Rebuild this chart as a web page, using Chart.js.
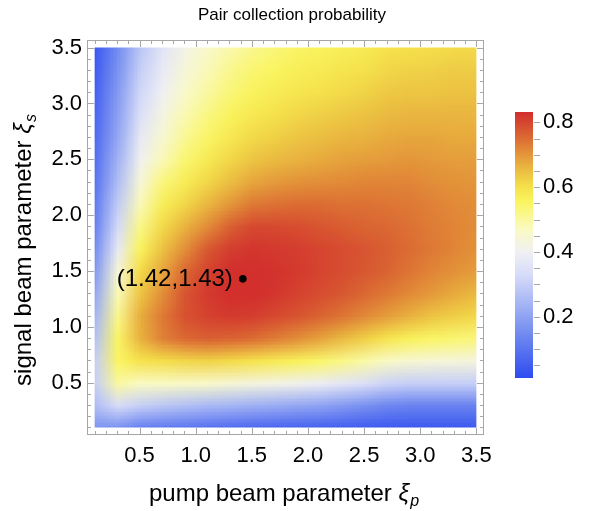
<!DOCTYPE html>
<html lang="en">
<head>
  <meta charset="UTF-8">
  <title>Pair collection probability</title>
  <script src="https://cdn.jsdelivr.net/npm/chart.js"></script>
  <style>
    html, body { margin: 0; padding: 0; background: #fff; }
    #wrap { width: 590px; height: 511px; }
  </style>
</head>
<body>
  <div id="wrap"><canvas id="chart" width="590" height="511"></canvas></div>

  <script>
    // grid: columns = pump xi, rows = signal xi (top row first)
    const pumpXi = [0.1, 0.3, 0.5, 0.7, 0.9, 1.1, 1.3, 1.5, 1.7, 1.9, 2.1, 2.3, 2.5, 2.7, 2.9, 3.1, 3.3, 3.5];
    const signalXi = [3.5, 3.3, 3.1, 2.9, 2.7, 2.5, 2.3, 2.1, 1.9, 1.7, 1.5, 1.3, 1.1, 0.9, 0.7, 0.5, 0.3, 0.1];
    const probRows = [
      [0.04, 0.15, 0.28, 0.36, 0.42, 0.46, 0.49, 0.515, 0.535, 0.55, 0.56, 0.57, 0.58, 0.595, 0.60, 0.605, 0.61, 0.61],
      [0.05, 0.165, 0.30, 0.38, 0.44, 0.48, 0.515, 0.54, 0.555, 0.57, 0.58, 0.59, 0.60, 0.615, 0.62, 0.625, 0.63, 0.63],
      [0.06, 0.18, 0.32, 0.40, 0.46, 0.50, 0.535, 0.56, 0.575, 0.59, 0.60, 0.61, 0.62, 0.635, 0.64, 0.64, 0.645, 0.645],
      [0.07, 0.195, 0.345, 0.425, 0.485, 0.525, 0.56, 0.585, 0.60, 0.615, 0.625, 0.635, 0.645, 0.655, 0.66, 0.66, 0.66, 0.66],
      [0.08, 0.21, 0.375, 0.45, 0.51, 0.55, 0.585, 0.61, 0.625, 0.64, 0.65, 0.66, 0.665, 0.675, 0.68, 0.68, 0.675, 0.675],
      [0.09, 0.235, 0.405, 0.48, 0.54, 0.58, 0.615, 0.64, 0.655, 0.665, 0.675, 0.685, 0.69, 0.695, 0.70, 0.695, 0.69, 0.69],
      [0.10, 0.26, 0.44, 0.53, 0.575, 0.615, 0.65, 0.68, 0.695, 0.705, 0.71, 0.715, 0.72, 0.72, 0.72, 0.71, 0.705, 0.70],
      [0.115, 0.29, 0.48, 0.57, 0.615, 0.66, 0.70, 0.735, 0.745, 0.75, 0.75, 0.745, 0.745, 0.74, 0.735, 0.725, 0.715, 0.71],
      [0.13, 0.325, 0.52, 0.61, 0.665, 0.715, 0.765, 0.795, 0.795, 0.79, 0.78, 0.77, 0.76, 0.755, 0.745, 0.73, 0.72, 0.71],
      [0.155, 0.375, 0.56, 0.645, 0.71, 0.775, 0.81, 0.82, 0.815, 0.81, 0.80, 0.79, 0.78, 0.765, 0.75, 0.735, 0.72, 0.705],
      [0.18, 0.44, 0.61, 0.68, 0.755, 0.805, 0.83, 0.83, 0.825, 0.815, 0.80, 0.79, 0.775, 0.76, 0.74, 0.72, 0.705, 0.69],
      [0.21, 0.48, 0.64, 0.71, 0.78, 0.815, 0.83, 0.83, 0.82, 0.805, 0.79, 0.775, 0.755, 0.735, 0.715, 0.695, 0.675, 0.655],
      [0.24, 0.515, 0.67, 0.735, 0.785, 0.805, 0.815, 0.81, 0.795, 0.78, 0.76, 0.74, 0.715, 0.69, 0.665, 0.64, 0.625, 0.61],
      [0.27, 0.55, 0.665, 0.725, 0.755, 0.765, 0.76, 0.75, 0.73, 0.71, 0.685, 0.655, 0.625, 0.59, 0.565, 0.55, 0.54, 0.53],
      [0.30, 0.55, 0.595, 0.605, 0.615, 0.62, 0.61, 0.595, 0.58, 0.565, 0.545, 0.52, 0.495, 0.465, 0.45, 0.44, 0.435, 0.43],
      [0.30, 0.50, 0.47, 0.47, 0.465, 0.46, 0.445, 0.43, 0.42, 0.41, 0.39, 0.365, 0.34, 0.31, 0.30, 0.30, 0.30, 0.30],
      [0.26, 0.33, 0.30, 0.28, 0.265, 0.25, 0.24, 0.23, 0.22, 0.21, 0.20, 0.18, 0.16, 0.14, 0.13, 0.13, 0.13, 0.13],
      [0.17, 0.16, 0.12, 0.11, 0.10, 0.09, 0.08, 0.07, 0.065, 0.06, 0.055, 0.05, 0.045, 0.04, 0.04, 0.04, 0.04, 0.04]
    ];
    const optimum = [{ x: 1.42, y: 1.43 }];
    const optimumLabel = '(1.42,1.43)';
    const xTicks = [0.5, 1.0, 1.5, 2.0, 2.5, 3.0, 3.5];
    const yTicks = [0.5, 1.0, 1.5, 2.0, 2.5, 3.0, 3.5];
    const barTicks = [0.2, 0.4, 0.6, 0.8];
    const barRange = [0.011, 0.832];

    // temperature-map like colour scale
    const mapVals = [0.011, 0.15, 0.25, 0.33, 0.40, 0.47, 0.555, 0.60, 0.65, 0.70, 0.76, 0.832];
    const mapRgb = [
      [45, 75, 240], [115, 140, 240], [170, 185, 245], [215, 220, 248], [240, 240, 243], [250, 250, 195],
      [250, 245, 95], [245, 225, 75], [235, 190, 65], [228, 150, 58], [218, 100, 50], [210, 45, 45]
    ];
    function colorOf(v) {
      if (v <= mapVals[0]) return mapRgb[0];
      for (let i = 1; i < mapVals.length; i++) {
        if (v <= mapVals[i]) {
          const t = (v - mapVals[i-1]) / (mapVals[i] - mapVals[i-1]);
          return mapRgb[i].map((c, k) => Math.round(mapRgb[i-1][k] + t * (c - mapRgb[i-1][k])));
        }
      }
      return mapRgb[mapRgb.length - 1];
    }

    const FONT = '"Liberation Sans", Arial, Helvetica, sans-serif';
    const frameGray = '#a6a6a6';

    function drawXiText(ctx, main, sub, cx, by, size) {
      ctx.font = `${size}px ${FONT}`;
      const w1 = ctx.measureText(main).width;
      ctx.font = `italic ${size}px ${FONT}`;
      const w2 = ctx.measureText('ξ').width;
      ctx.font = `italic ${Math.round(size*0.68)}px ${FONT}`;
      const w3 = ctx.measureText(sub).width;
      let x0 = cx - (w1 + w2 + w3 + 1) / 2;
      ctx.textAlign = 'left'; ctx.textBaseline = 'alphabetic';
      ctx.font = `${size}px ${FONT}`; ctx.fillText(main, x0, by);
      ctx.font = `italic ${size}px ${FONT}`; ctx.fillText('ξ', x0 + w1, by);
      ctx.font = `italic ${Math.round(size*0.68)}px ${FONT}`; ctx.fillText(sub, x0 + w1 + w2 + 1, by + 5);
    }

    let tile = null;
    const heatmap = {
      id: 'heatmap',
      beforeDatasetsDraw(chart) {
        const { ctx, chartArea, scales: { x, y } } = chart;
        if (!tile) {
          tile = document.createElement('canvas');
          tile.width = pumpXi.length; tile.height = signalXi.length;
          const tctx = tile.getContext('2d');
          const img = tctx.createImageData(tile.width, tile.height);
          probRows.forEach((row, j) => row.forEach((v, i) => {
            const c = colorOf(v), o = (j * tile.width + i) * 4;
            img.data[o] = c[0]; img.data[o+1] = c[1]; img.data[o+2] = c[2]; img.data[o+3] = 255;
          }));
          tctx.putImageData(img, 0, 0);
        }
        const dx = (pumpXi[1] - pumpXi[0]) / 2, dy = (signalXi[0] - signalXi[1]) / 2;
        const L = x.getPixelForValue(pumpXi[0]), R = x.getPixelForValue(pumpXi[pumpXi.length-1]);
        const T = y.getPixelForValue(signalXi[0]), B = y.getPixelForValue(signalXi[signalXi.length-1]);
        const iL = x.getPixelForValue(pumpXi[0] - dx), iR = x.getPixelForValue(pumpXi[pumpXi.length-1] + dx);
        const iT = y.getPixelForValue(signalXi[0] + dy), iB = y.getPixelForValue(signalXi[signalXi.length-1] - dy);
        ctx.save();
        ctx.beginPath(); ctx.rect(L, T, R - L, B - T); ctx.clip();
        ctx.imageSmoothingEnabled = true;
        ctx.drawImage(tile, iL, iT, iR - iL, iB - iT);
        ctx.restore();

        // frame with inward ticks
        ctx.save();
        ctx.strokeStyle = frameGray; ctx.lineWidth = 1;
        ctx.strokeRect(chartArea.left + 0.5, chartArea.top + 0.5, chartArea.width - 1, chartArea.height - 1);
        for (let k = 1; k <= 35; k++) {
          const v = k / 10, major = k % 5 === 0, len = major ? 7 : 4;
          const px = Math.round(x.getPixelForValue(v)) + 0.5, py = Math.round(y.getPixelForValue(v)) + 0.5;
          ctx.beginPath();
          ctx.moveTo(px, chartArea.bottom); ctx.lineTo(px, chartArea.bottom - len);
          ctx.moveTo(px, chartArea.top); ctx.lineTo(px, chartArea.top + len);
          ctx.moveTo(chartArea.left, py); ctx.lineTo(chartArea.left + len, py);
          ctx.moveTo(chartArea.right, py); ctx.lineTo(chartArea.right - len, py);
          ctx.stroke();
        }
        ctx.restore();
      },
      afterDatasetsDraw(chart) {
        const { ctx, scales: { x, y } } = chart;
        ctx.save();
        ctx.fillStyle = '#000';
        ctx.font = `24px ${FONT}`;
        ctx.textAlign = 'right'; ctx.textBaseline = 'middle';
        ctx.fillText(optimumLabel, x.getPixelForValue(optimum[0].x) - 10, y.getPixelForValue(optimum[0].y) + 1);
        ctx.restore();
      },
      afterDraw(chart) {
        const { ctx, chartArea, scales: { x, y } } = chart;
        ctx.save();
        ctx.fillStyle = '#000';
        // tick labels
        ctx.font = `22px ${FONT}`;
        ctx.textAlign = 'center'; ctx.textBaseline = 'middle';
        xTicks.forEach(v => ctx.fillText(v.toFixed(1), x.getPixelForValue(v), chartArea.bottom + 21));
        ctx.textAlign = 'right';
        yTicks.forEach(v => ctx.fillText(v.toFixed(1), chartArea.left - 5, y.getPixelForValue(v)));

        // title
        ctx.font = `17px ${FONT}`;
        ctx.textAlign = 'center'; ctx.textBaseline = 'middle';
        ctx.fillText('Pair collection probability', 292, 15);

        // axis titles
        drawXiText(ctx, 'pump beam parameter ', 'p', 284, 501, 24);
        ctx.save();
        ctx.translate(31, 250); ctx.rotate(-Math.PI / 2);
        drawXiText(ctx, 'signal beam parameter ', 's', 0, 0, 24);
        ctx.restore();

        // colour bar legend
        const bx = 515, bw = 18, bTop = 112, bBot = 378;
        const vy = v => bBot - (v - barRange[0]) / (barRange[1] - barRange[0]) * (bBot - bTop);
        for (let py = bTop; py < bBot; py++) {
          const v = barRange[0] + (bBot - py - 0.5) / (bBot - bTop) * (barRange[1] - barRange[0]);
          const c = colorOf(v);
          ctx.fillStyle = `rgb(${c[0]},${c[1]},${c[2]})`;
          ctx.fillRect(bx, py, bw, 1);
        }
        ctx.strokeStyle = frameGray; ctx.lineWidth = 1;
        for (let k = 1; k <= 16; k++) {
          const py = Math.round(vy(k * 0.05)) + 0.5;
          ctx.beginPath(); ctx.moveTo(bx + bw + 1, py); ctx.lineTo(bx + bw + 7, py); ctx.stroke();
        }
        ctx.fillStyle = '#000';
        ctx.font = `22px ${FONT}`;
        ctx.textAlign = 'left'; ctx.textBaseline = 'middle';
        barTicks.forEach(v => ctx.fillText(v.toFixed(1), 543, vy(v)));
        ctx.restore();
      }
    };

    new Chart(document.getElementById('chart'), {
      type: 'scatter',
      data: {
        datasets: [{
          data: optimum,
          backgroundColor: '#000',
          borderWidth: 0,
          pointRadius: 3.8
        }]
      },
      options: {
        responsive: false,
        animation: false,
        events: [],
        layout: { padding: { left: 87, right: 106, top: 40, bottom: 76 } },
        plugins: { legend: { display: false }, tooltip: { enabled: false } },
        scales: {
          x: { type: 'linear', display: false, min: 0.032, max: 3.568 },
          y: { type: 'linear', display: false, min: 0.032, max: 3.568 }
        }
      },
      plugins: [heatmap]
    });
  </script>
</body>
</html>
